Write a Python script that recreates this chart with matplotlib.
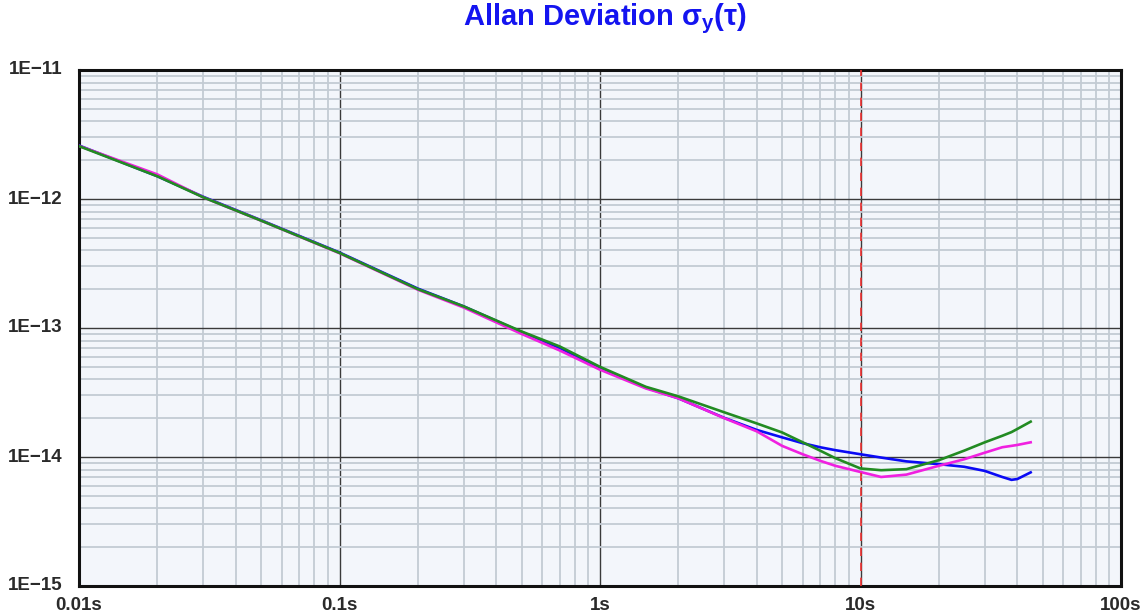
import matplotlib
matplotlib.use("Agg")
import matplotlib.pyplot as plt
from matplotlib.ticker import NullFormatter, LogLocator

plt.rcParams["mathtext.fontset"] = "custom"
plt.rcParams["mathtext.bf"] = "Liberation Sans:bold"
plt.rcParams["mathtext.rm"] = "Liberation Sans:bold"
plt.rcParams["mathtext.it"] = "Liberation Sans:bold"

tau = [0.01, 0.02, 0.03, 0.05, 0.1, 0.2, 0.3, 0.5, 0.7, 1, 1.5, 2, 3, 4, 5, 6, 7, 8,
       10, 12, 15, 20, 25, 30, 35, 38, 40, 45]

adev_blue = [2.6e-12, 1.5e-12, 1.04e-12, 6.85e-13, 3.85e-13, 2.02e-13, 1.47e-13, 9.3e-14,
             7.0e-14, 4.9e-14, 3.45e-14, 2.85e-14, 2.01e-14, 1.62e-14, 1.42e-14, 1.28e-14,
             1.19e-14, 1.13e-14, 1.05e-14, 9.9e-15, 9.25e-15, 8.8e-15, 8.4e-15, 7.8e-15,
             7.0e-15, 6.65e-15, 6.75e-15, 7.6e-15]
adev_magenta = [2.58e-12, 1.55e-12, 1.03e-12, 6.8e-13, 3.8e-13, 1.98e-13, 1.44e-13, 9.0e-14,
                6.7e-14, 4.75e-14, 3.4e-14, 2.85e-14, 2.0e-14, 1.58e-14, 1.22e-14, 1.05e-14,
                9.35e-15, 8.55e-15, 7.65e-15, 7.0e-15, 7.3e-15, 8.55e-15, 9.6e-15, 1.08e-14,
                1.19e-14, 1.22e-14, 1.24e-14, 1.30e-14]
adev_green = [2.57e-12, 1.5e-12, 1.03e-12, 6.8e-13, 3.82e-13, 2.0e-13, 1.47e-13, 9.4e-14,
              7.2e-14, 5.0e-14, 3.5e-14, 2.95e-14, 2.22e-14, 1.82e-14, 1.55e-14, 1.30e-14,
              1.12e-14, 9.8e-15, 8.15e-15, 7.9e-15, 8.05e-15, 9.45e-15, 1.12e-14, 1.30e-14,
              1.46e-14, 1.56e-14, 1.65e-14, 1.88e-14]

x_ticks = [0.01, 0.1, 1, 10, 100]
x_labels = ["0.01s", "0.1s", "1s", "10s", "100s"]
y_ticks = [1e-15, 1e-14, 1e-13, 1e-12, 1e-11]
y_labels = ["1E\u221215", "1E\u221214", "1E\u221213", "1E\u221212", "1E\u221211"]
marker_tau = 10

fig = plt.figure(figsize=(11.47, 6.15), dpi=100)
ax = fig.add_axes([79 / 1147, 1 - 586 / 615, (1121 - 79) / 1147, (586 - 70) / 615])
ax.set_facecolor("#F3F6FB")
ax.set_xscale("log")
ax.set_yscale("log")
ax.set_xlim(0.01, 100)
ax.set_ylim(1e-15, 1e-11)

ax.xaxis.set_minor_locator(LogLocator(base=10, subs=range(2, 10), numticks=20))
ax.yaxis.set_minor_locator(LogLocator(base=10, subs=range(2, 10), numticks=20))
ax.xaxis.set_minor_formatter(NullFormatter())
ax.yaxis.set_minor_formatter(NullFormatter())
ax.grid(which="minor", color="#C3CBD4", linewidth=1.3, zorder=0)
ax.grid(which="major", color="#3A3A3A", linewidth=1.0, zorder=0)
ax.set_axisbelow(True)

ax.set_xticks(x_ticks)
ax.set_xticklabels(x_labels)
ax.set_yticks(y_ticks)
ax.set_yticklabels(y_labels)
ax.tick_params(which="both", length=0)
ax.tick_params(axis="x", pad=8)
ax.tick_params(axis="y", pad=12)
for lab in ax.get_xticklabels() + ax.get_yticklabels():
    lab.set_fontweight("bold")
    lab.set_fontsize(13.5)
    lab.set_color("#2A2A2A")
    lab.set_family("Liberation Sans")
for lab in ax.get_yticklabels():
    lab.set_verticalalignment("center")

ax.plot(tau, adev_blue, color="#0A0AF5", linewidth=1.9, zorder=3)
ax.plot(tau, adev_magenta, color="#F020E0", linewidth=1.9, zorder=3)
ax.plot(tau, adev_green, color="#228B22", linewidth=1.9, zorder=4)
ax.axvline(marker_tau, color="#F03030", linestyle=(0, (5, 4)), linewidth=1.2, zorder=5)

for s in ax.spines.values():
    s.set_linewidth(2.2)
    s.set_color("#111111")

fig.text(605 / 1147, 1 - 25 / 615,
         "Allan Deviation σ$_{\\mathbf{y}}$(τ)", ha="center", va="baseline",
         color="#1414F0", fontsize=21, fontweight="bold", family="Liberation Sans")

fig.savefig("out.png", dpi=100)
